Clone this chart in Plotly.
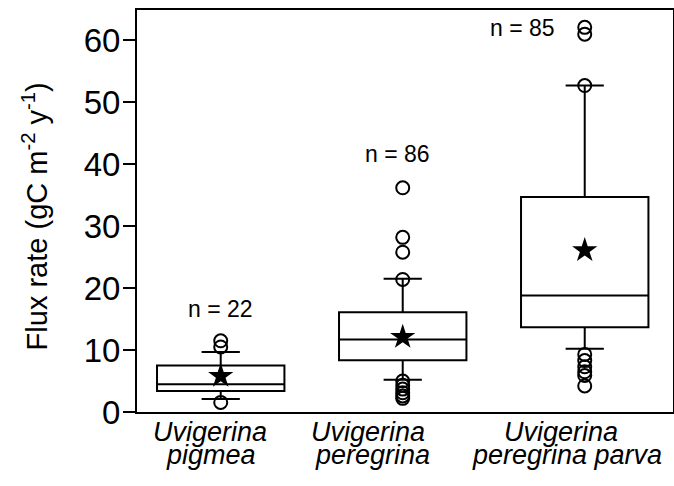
import plotly.graph_objects as go

# ---- data ----
categories = ["Uvigerina pigmea", "Uvigerina peregrina", "Uvigerina peregrina parva"]
label_line1 = ["Uvigerina", "Uvigerina", "Uvigerina"]
label_line2 = ["pigmea", "peregrina", "peregrina parva"]
y_title = "Flux rate (gC m<sup>-2</sup> y<sup>-1</sup>)"
q1 = [3.4, 8.35, 13.7]
median = [4.5, 11.7, 18.8]
q3 = [7.5, 16.1, 34.7]
lower_whisker = [2.1, 5.2, 10.2]
upper_whisker = [9.7, 21.5, 52.7]
means = [5.8, 12.1, 26.1]
n_counts = [22, 86, 85]
outliers_pigmea = [11.5, 10.5, 1.55]
outliers_peregrina = [36.2, 28.2, 25.8, 21.4, 5.0, 4.3, 3.7, 3.1, 2.6, 2.2]
outliers_parva = [62.1, 61.0, 52.7, 9.3, 8.3, 7.3, 6.5, 5.9, 4.2]
y_ticks = [0, 10, 20, 30, 40, 50, 60]

FONT = "Liberation Sans, Arial, Helvetica, sans-serif"
pos = list(range(len(categories)))

fig = go.Figure()

fig.add_trace(go.Box(
    x=pos, q1=q1, median=median, q3=q3,
    lowerfence=lower_whisker, upperfence=upper_whisker,
    boxpoints=False, width=0.7, whiskerwidth=0.3,
    line=dict(color="black", width=2), fillcolor="rgba(0,0,0,0)",
    showlegend=False, hoverinfo="skip", name="",
))

out_x, out_y = [], []
for p, vals in zip(pos, [outliers_pigmea, outliers_peregrina, outliers_parva]):
    out_x += [p] * len(vals)
    out_y += vals
fig.add_trace(go.Scatter(
    x=out_x, y=out_y, mode="markers",
    marker=dict(symbol="circle-open", size=13, color="black", line=dict(width=2, color="black")),
    showlegend=False,
))

fig.add_trace(go.Scatter(
    x=pos, y=means, mode="markers",
    marker=dict(symbol="star", size=19, color="black", line=dict(width=0)),
    showlegend=False,
))

# n labels
n_pos = [(0, 16.6), (-0.03, 41.6), (-0.34, 62.0)]
for p, (dx, py), n in zip(pos, n_pos, n_counts):
    fig.add_annotation(x=p + dx, y=py, xref="x", yref="y", text=f"n = {n}", showarrow=False,
                       font=dict(size=23, color="black", family=FONT), xanchor="center", yanchor="middle")

# category labels (two lines each)
shifts1 = [-11, -35, -24]
shifts2 = [-10, -30, -18]
for i, (l1, l2) in enumerate(zip(label_line1, label_line2)):
    fig.add_annotation(x=pos[i], y=-0.05, xref="x", yref="paper", text=f"<i>{l1}</i>", showarrow=False,
                       xshift=shifts1[i], font=dict(size=27, color="black", family=FONT),
                       xanchor="center", yanchor="middle")
    fig.add_annotation(x=pos[i], y=-0.107, xref="x", yref="paper", text=f"<i>{l2}</i>", showarrow=False,
                       xshift=shifts2[i], font=dict(size=27, color="black", family=FONT),
                       xanchor="center", yanchor="middle")

# y-axis title as rotated annotation
fig.add_annotation(x=-0.19, y=0.487, xref="paper", yref="paper", text=y_title, textangle=-90,
                   showarrow=False, font=dict(size=29, color="black", family=FONT),
                   xanchor="center", yanchor="middle")

fig.update_layout(
    width=674, height=486,
    margin=dict(l=137, r=1, t=10, b=74, autoexpand=False),
    paper_bgcolor="white", plot_bgcolor="white",
    font=dict(family=FONT, color="black"),
    showlegend=False,
)
fig.update_xaxes(
    range=[-0.46, 2.485], showticklabels=False, ticks="", automargin=False,
    showline=True, linecolor="black", linewidth=2, mirror=True, showgrid=False, zeroline=False,
)
fig.update_yaxes(
    range=[0, 64.9], tickvals=y_ticks, ticktext=[str(v) for v in y_ticks], automargin=False,
    ticks="outside", ticklen=12, tickwidth=2, tickcolor="black",
    tickfont=dict(size=33, family=FONT, color="black"), ticklabelstandoff=-4,
    showline=True, linecolor="black", linewidth=2, mirror=True, showgrid=False, zeroline=False,
)

fig.write_html("out.html", config={"displayModeBar": False},
               post_script="document.body.style.margin='0';document.body.style.overflow='hidden';")
